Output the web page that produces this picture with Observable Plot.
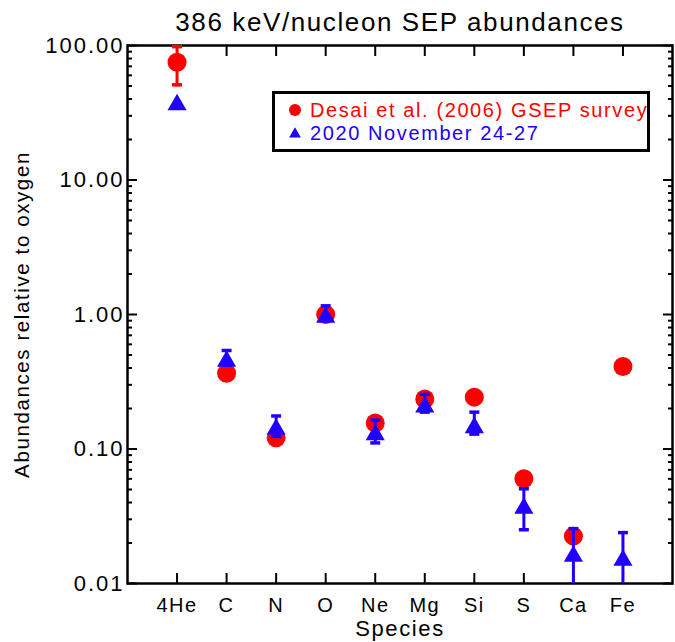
<!DOCTYPE html>
<html>
<head>
<meta charset="utf-8">
<script src="https://cdn.jsdelivr.net/npm/d3@7"></script>
<script src="https://cdn.jsdelivr.net/npm/@observablehq/plot@0.6"></script>
<style>
  body { margin: 0; background: #fff; }
  #wrap { position: relative; width: 675px; height: 642px; font-family: "Liberation Sans", Arial, Helvetica, sans-serif; }
  #wrap svg text { font-family: "Liberation Sans", Arial, Helvetica, sans-serif; }
  g[aria-label="y-axis tick label"] text { letter-spacing: 2px; }
  g[aria-label="x-axis tick label"] text { letter-spacing: 1.5px; }
  g[aria-label="text"] text { letter-spacing: 1.6px; }
  #legend { position: absolute; left: 272px; top: 91px; }
  #legend text { letter-spacing: 1.6px; font-size: 20px; }
</style>
</head>
<body>
<div id="wrap"></div>
<script>
// ---- data ----
const species = ["4He", "C", "N", "O", "Ne", "Mg", "Si", "S", "Ca", "Fe"];
// Desai et al. (2006) GSEP survey
const desai     = [75, 0.366, 0.121, 1.0, 0.156, 0.235, 0.243, 0.060, 0.0225, 0.41];
const desaiLow  = [51, null, null, null, null, null, null, null, null, null];
const desaiHigh = [98, null, null, null, null, null, null, null, null, null];
// 2020 November 24-27
const nov     = [38, 0.47, 0.147, 1.0, 0.134, 0.215, 0.151, 0.038, 0.0167, 0.0156];
const novLow  = [null, 0.42, 0.124, 0.90, 0.111, 0.188, 0.129, 0.0251, 0.005, 0.005];
const novHigh = [null, 0.54, 0.176, 1.16, 0.164, 0.255, 0.188, 0.0506, 0.0256, 0.0239];
const yTicks = [0.01, 0.1, 1, 10, 100];
const titleText = "386 keV/nucleon SEP abundances";
const xLabel = "Species";
const yLabel = "Abundances relative to oxygen";
const legendLabels = ["Desai et al. (2006) GSEP survey", "2020 November 24-27"];

const RED = "#ff0000", BLUE = "#2000ff";

const rows = species.map((s, i) => ({
  pos: i + 1, s,
  d: desai[i], dLo: desaiLow[i], dHi: desaiHigh[i],
  n: nov[i], nLo: novLow[i], nHi: novHigh[i]
}));
const xPositions = species.map((s, i) => i + 1);
const minorTicks = [];
for (const dec of yTicks.slice(0, -1)) for (let k = 2; k <= 9; k++) minorTicks.push(+(dec * k).toPrecision(3));

// error-bar cap symbol (horizontal bar)
const capSymbol = { draw(ctx) { ctx.moveTo(-5, 0); ctx.lineTo(5, 0); } };

const plot = Plot.plot({
  width: 675,
  height: 642,
  marginLeft: 127,
  marginRight: 3,
  marginTop: 45,
  marginBottom: 59,
  style: { background: "white", fontFamily: "Liberation Sans, Arial, sans-serif", color: "black" },
  x: { type: "linear", domain: [0, 11], axis: null },
  y: { type: "log", domain: [0.01, 100], clamp: true, axis: null },
  marks: [
    // y tick labels
    Plot.axisY(yTicks, { anchor: "left", label: null, tickSize: 0, tickPadding: 3, tickFormat: d3.format(".2f"), fontSize: 22 }),
    // y ticks (inward), left and right
    Plot.axisY(yTicks, { anchor: "left", label: null, tickSize: -10, strokeWidth: 2, fill: "none" }),
    Plot.axisY(minorTicks, { anchor: "left", label: null, tickSize: -5, strokeWidth: 2, fill: "none" }),
    Plot.axisY(yTicks, { anchor: "right", label: null, tickSize: -10, strokeWidth: 2, fill: "none" }),
    Plot.axisY(minorTicks, { anchor: "right", label: null, tickSize: -5, strokeWidth: 2, fill: "none" }),
    // x tick labels
    Plot.axisX(xPositions, { anchor: "bottom", label: null, tickSize: 0, tickPadding: 14, tickFormat: i => species[i - 1], fontSize: 20 }),
    Plot.axisX(xPositions, { anchor: "bottom", label: null, tickSize: -10, strokeWidth: 2, fill: "none" }),
    Plot.axisX(xPositions, { anchor: "top", label: null, tickSize: -10, strokeWidth: 2, fill: "none" }),
    Plot.frame({ stroke: "black", strokeWidth: 2.5 }),
    // titles
    Plot.text([titleText], { text: d => d, frameAnchor: "top", lineAnchor: "middle", dy: -23, fontSize: 26 }),
    Plot.text([xLabel], { text: d => d, frameAnchor: "bottom", lineAnchor: "middle", dy: 45, fontSize: 22 }),
    Plot.text([yLabel], { text: d => d, frameAnchor: "left", textAnchor: "middle", dx: -105, rotate: -90, fontSize: 20.5 }),
    // Desai error bars + points
    Plot.ruleX(rows.filter(r => r.dLo != null), { x: "pos", y1: "dLo", y2: "dHi", stroke: RED, strokeWidth: 3 }),
    Plot.dot(rows.filter(r => r.dLo != null), { x: "pos", y: "dLo", symbol: capSymbol, fill: "none", stroke: RED, strokeWidth: 3.5 }),
    Plot.dot(rows.filter(r => r.dHi != null), { x: "pos", y: "dHi", symbol: capSymbol, fill: "none", stroke: RED, strokeWidth: 3.5 }),
    Plot.dot(rows, { x: "pos", y: "d", r: 9.5, fill: RED }),
    // November triangles + error bars
    Plot.dot(rows, { x: "pos", y: "n", r: 7.1, symbol: "triangle", fill: BLUE, dy: 2.7 }),
    Plot.ruleX(rows.filter(r => r.nLo != null), { x: "pos", y1: "nLo", y2: "nHi", stroke: BLUE, strokeWidth: 3 }),
    Plot.dot(rows.filter(r => r.nLo != null && r.nLo >= 0.01), { x: "pos", y: "nLo", symbol: capSymbol, fill: "none", stroke: BLUE, strokeWidth: 3.5 }),
    Plot.dot(rows.filter(r => r.nHi != null), { x: "pos", y: "nHi", symbol: capSymbol, fill: "none", stroke: BLUE, strokeWidth: 3.5 })
  ]
});

const wrap = document.getElementById("wrap");
wrap.appendChild(plot);

// legend box
const lg = d3.select(wrap).append("svg").attr("id", "legend").attr("width", 378).attr("height", 61);
lg.append("rect").attr("x", 1.5).attr("y", 1.5).attr("width", 375).attr("height", 58)
  .attr("fill", "white").attr("stroke", "black").attr("stroke-width", 3);
lg.append("circle").attr("cx", 23).attr("cy", 19).attr("r", 6).attr("fill", RED);
lg.append("path").attr("d", d3.symbol(d3.symbolTriangle, 60)()).attr("transform", "translate(23,43)").attr("fill", BLUE);
lg.append("text").attr("x", 38).attr("y", 26).attr("fill", RED).text(legendLabels[0]);
lg.append("text").attr("x", 38).attr("y", 49).attr("fill", BLUE).text(legendLabels[1]);
</script>
</body>
</html>
